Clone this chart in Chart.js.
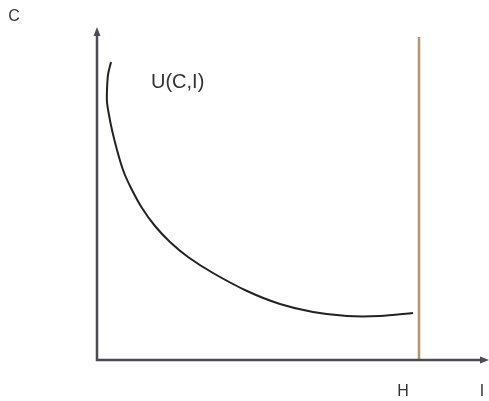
<!DOCTYPE html>
<html>
<head>
<meta charset="utf-8">
<script src="https://cdn.jsdelivr.net/npm/chart.js@4/dist/chart.umd.min.js"></script>
<style>
html,body{margin:0;padding:0;background:#fff;}
#wrap{width:489px;height:401px;}
</style>
</head>
<body>
<div id="wrap"><canvas id="chart"></canvas></div>
<script>
// curve U(C,I) (x = I, y = C)
const curveI = [14, 11, 10, 10, 12, 15, 20, 26, 34, 45, 58, 73, 91, 116, 150, 183, 216, 250, 283, 316];
const curveC = [298, 285, 270, 258, 245, 230, 210, 190, 172, 152, 134, 118, 103, 87, 69, 56, 48, 44, 44, 47];

// budget line at H
const hValue = 322;
const hTop = 323;

const xMax = 392;
const yMax = 332;

const axisColor = '#4b4b55';
const textColor = '#333333';

// axes with arrows + labels
const axesPlugin = {
id:'axes',
afterDraw(chart){
const ctx = chart.ctx;
const x = chart.scales.x, y = chart.scales.y;
const x0 = x.getPixelForValue(0), y0 = y.getPixelForValue(0);
const yTop = y.getPixelForValue(yMax), xEnd = x.getPixelForValue(xMax);
ctx.save();
ctx.strokeStyle = axisColor;
ctx.fillStyle = axisColor;
ctx.lineWidth = 2.5;
ctx.beginPath();
ctx.moveTo(x0, yTop + 4);
ctx.lineTo(x0, y0);
ctx.lineTo(xEnd - 4, y0);
ctx.stroke();
// arrow heads
ctx.beginPath();
ctx.moveTo(x0, yTop - 1);
ctx.lineTo(x0 - 3.5, yTop + 8);
ctx.lineTo(x0 + 3.5, yTop + 8);
ctx.closePath();
ctx.fill();
ctx.beginPath();
ctx.moveTo(xEnd, y0);
ctx.lineTo(xEnd - 9, y0 - 3.5);
ctx.lineTo(xEnd - 9, y0 + 3.5);
ctx.closePath();
ctx.fill();
// labels
ctx.fillStyle = textColor;
ctx.font = '16px "Liberation Sans", Arial, sans-serif';
ctx.textBaseline = 'middle';
ctx.textAlign = 'center';
ctx.fillText('C', 14, 17);
ctx.fillText('H', x.getPixelForValue(hValue) - 16, 392);
ctx.fillText('I', 482, 392);
ctx.textAlign = 'left';
ctx.font = '20px "Liberation Sans", Arial, sans-serif';
ctx.fillText('U(C,I)', 151, 82);
ctx.restore();
}
};

new Chart(document.getElementById('chart'),{
type:'scatter',
data:{
datasets:[
{
label:'U(C,I)',
data:curveI.map((v,i)=>({x:v,y:curveC[i]})),
showLine:true,
borderColor:'#222222',
borderWidth:2,
pointRadius:0,
tension:0.3
},
{
label:'H',
data:[{x:hValue,y:0},{x:hValue,y:hTop}],
showLine:true,
borderColor:'#b8946a',
borderWidth:2.5,
pointRadius:0
}
]
},
options:{
responsive:true,
maintainAspectRatio:false,
animation:false,
layout:{padding:{left:97,right:0,top:28,bottom:41}},
scales:{
x:{type:'linear',min:0,max:xMax,display:false},
y:{type:'linear',min:0,max:yMax,display:false}
},
plugins:{
legend:{display:false},
tooltip:{enabled:false}
}
},
plugins:[axesPlugin]
});
</script>
</body>
</html>
